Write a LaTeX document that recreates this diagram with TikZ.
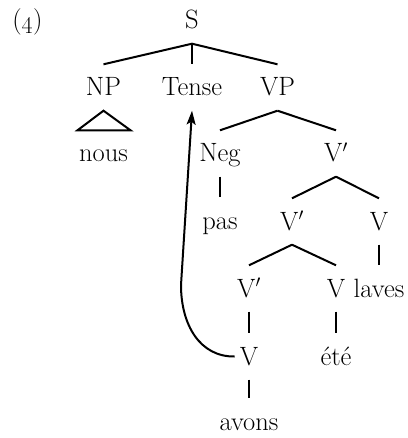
\documentclass[tikz,border=0pt]{standalone}
\usetikzlibrary{arrows.meta}
\begin{document}
\begin{tikzpicture}[x=1pt,y=-1pt,
  every node/.style={font=\fontsize{26.5}{30}\selectfont},
  tn/.style={anchor=base, text height=17pt, text depth=0pt, inner ysep=14.5pt, inner xsep=5pt},
  br/.style={line width=2pt},
  mv/.style={line width=2pt, -{Stealth[length=14pt,width=9pt,inset=3pt]}}]
\useasboundingbox (0,0) rectangle (407,438);
\node[anchor=base] (num) at (27.5,29) {(\oldstylenums{4})};
\node[tn] (S) at (192,29) {S};
\node[tn] (NP) at (103.5,96) {NP};
\node[tn] (Tense) at (192,96) {Tense};
\node[tn] (VP) at (277.5,96) {VP};
\node[tn] (nous) at (103.5,162) {nous};
\node[tn] (Neg) at (220,162) {Neg};
\node[tn] (Vb1) at (336,162) {V$'$};
\node[tn] (pas) at (220,229) {pas};
\node[tn] (Vb2) at (292,230) {V$'$};
\node[tn] (V1) at (379,230) {V};
\node[tn] (Vb3) at (249,297) {V$'$};
\node[tn] (V2) at (336,297) {V};
\node[tn] (laves) at (379,297) {laves};
\node[tn] (V3) at (249,365) {V};
\node[tn] (ete) at (336,365) {été};
\node[tn] (avons) at (249,430) {avons};
\coordinate (bend) at (181,285);
\draw[br] (S.south) -- (NP.north);
\draw[br] (S.south) -- (Tense.north);
\draw[br] (S.south) -- (VP.north);
\draw[br] (NP.south) -- ([xshift=-26pt]nous.north) -- ([xshift=27pt]nous.north) -- cycle;
\draw[br] (VP.south) -- (Neg.north);
\draw[br] (VP.south) -- (Vb1.north);
\draw[br] (Neg.south) -- (pas.north);
\draw[br] (Vb1.south) -- (Vb2.north);
\draw[br] (Vb1.south) -- (V1.north);
\draw[br] (Vb2.south) -- (Vb3.north);
\draw[br] (Vb2.south) -- (V2.north);
\draw[br] (V1.south) -- (laves.north);
\draw[br] (Vb3.south) -- (V3.north);
\draw[br] (V2.south) -- (ete.north);
\draw[br] (V3.south) -- (avons.north);
\draw[mv] (V3.west) .. controls (200,357) and (181,325) .. (bend) -- (Tense.south);
\end{tikzpicture}
\end{document}
